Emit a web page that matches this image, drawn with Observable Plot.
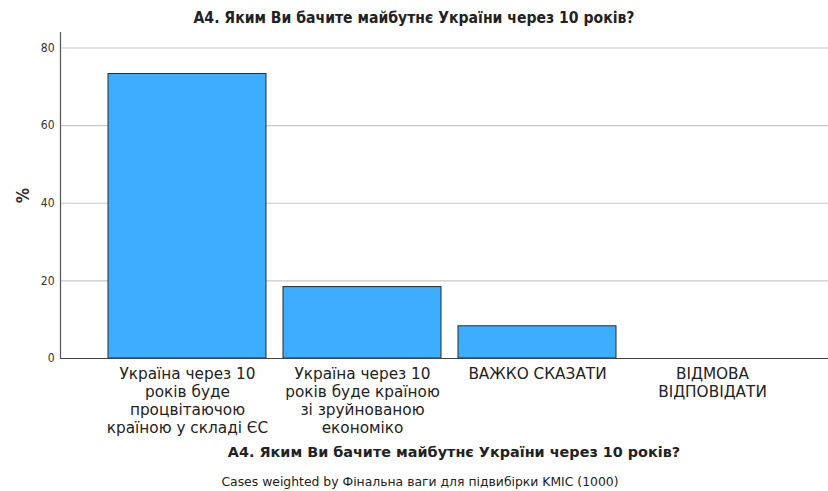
<!DOCTYPE html>
<html>
<head>
<meta charset="utf-8">
<script src="https://cdn.jsdelivr.net/npm/d3@7"></script>
<script src="https://cdn.jsdelivr.net/npm/@observablehq/plot@0.6"></script>
<style>
  html, body { margin: 0; padding: 0; background: #fff; }
  body { width: 828px; }
  .title { height: 30px; line-height: 36px; text-align: center; font-family: "DejaVu Sans Condensed", sans-serif; font-weight: bold; font-size: 15.6px; color: #222; }
  .xtitle { text-align: center; font-family: "DejaVu Sans", sans-serif; font-weight: bold; font-size: 14.4px; color: #222; margin-left: 80px; margin-top: 6px; }
  .caption { text-align: center; font-family: "DejaVu Sans", sans-serif; font-size: 12.4px; color: #222; margin-top: 14px; margin-left: 12px; }
</style>
</head>
<body>
<div class="title">A4. Яким Ви бачите майбутнє України через 10 років?</div>
<div id="chart"></div>
<div class="xtitle">A4. Яким Ви бачите майбутнє України через 10 років?</div>
<div class="caption">Cases weighted by Фінальна ваги для підвибірки KMIC (1000)</div>
<script>
const categories = [
  "Україна через 10 років буде процвітаючою країною у складі ЄС",
  "Україна через 10 років буде країною зі зруйнованою економіко",
  "ВАЖКО СКАЗАТИ",
  "ВІДМОВА ВІДПОВІДАТИ"
];
const tickLabels = [
  "Україна через 10\nроків буде\nпроцвітаючою\nкраїною у складі ЄС",
  "Україна через 10\nроків буде країною\nзі зруйнованою\nекономіко",
  "ВАЖКО СКАЗАТИ",
  "ВІДМОВА\nВІДПОВІДАТИ"
];
const percents = [73.3, 18.4, 8.3, 0.0];
const yTicks = [0, 20, 40, 60, 80];

const data = categories.map((c, i) => ({category: c, percent: percents[i]}));
const labelOf = new Map(categories.map((c, i) => [c, tickLabels[i]]));

const chart = Plot.plot({
  width: 828,
  height: 408,
  marginLeft: 60,
  marginRight: 0,
  marginTop: 2,
  marginBottom: 80,
  style: {fontFamily: "'DejaVu Sans Condensed', sans-serif", color: "#222", background: "#fff"},
  x: {domain: categories, paddingInner: 0.1, paddingOuter: 0.244, align: 0.56},
  y: {domain: [0, 84]},
  marks: [
    Plot.ruleY(yTicks.filter(d => d > 0), {stroke: "#c8c8c8", strokeWidth: 1.2}),
    Plot.barY(data, {x: "category", y: "percent", fill: "#3dadff", stroke: "#2a2a2a", strokeWidth: 1}),
    Plot.ruleY([0], {stroke: "#444", strokeWidth: 1.2}),
    Plot.frame({anchor: "left", stroke: "#555", strokeWidth: 1.2}),
    Plot.axisY({ticks: yTicks, tickSize: 0, tickPadding: 6, fontSize: 12, fill: "#333",
      label: "%", labelAnchor: "center", labelOffset: 44, labelArrow: "none"}),
    Plot.axisX({tickSize: 0, tickPadding: 8, fontSize: 15.3, lineHeight: 1.17, fill: "#222",
      fontFamily: "'DejaVu Sans', sans-serif",
      tickFormat: d => labelOf.get(d), label: null})
  ]
});
document.getElementById("chart").appendChild(chart);
chart.querySelectorAll("g[aria-label='y-axis label'] text").forEach(t => {
  t.setAttribute("font-weight", "bold");
  t.setAttribute("font-size", "17");
});
</script>
</body>
</html>
